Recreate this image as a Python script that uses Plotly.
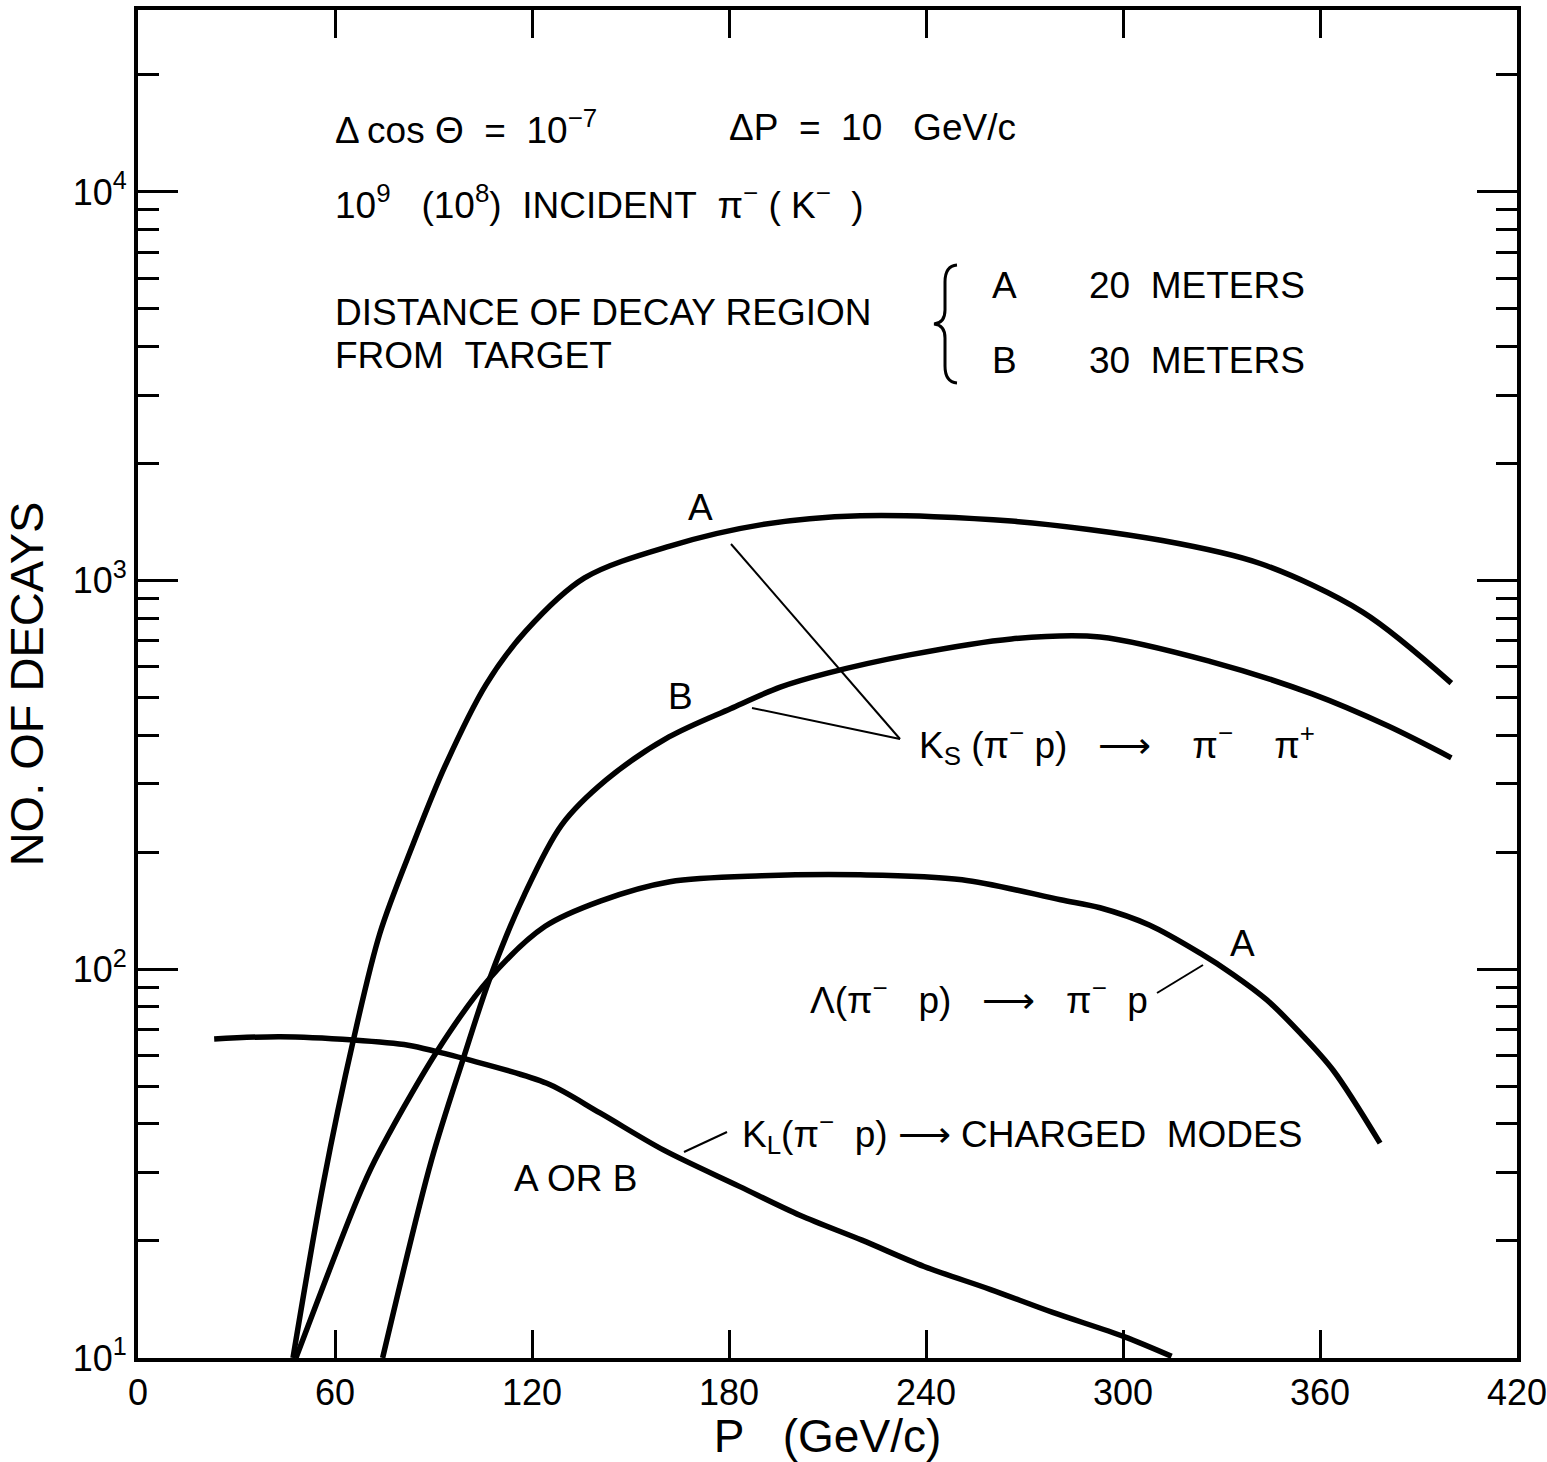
import plotly.graph_objects as go

# ---------------- data ----------------
ks_a_p = [47.2, 56.4, 65.6, 73.7, 83.8, 93.5, 106, 118, 136, 162, 190, 220, 266, 312, 342, 373, 400]
ks_a_n = [10, 28, 65.8, 124, 210, 333, 540, 740, 1016, 1227, 1393, 1468, 1423, 1268, 1105, 830, 545]

ks_b_p = [74.5, 89.4, 99.1, 107.2, 117.6, 129, 142.6, 161.7, 180.6, 195.6, 210, 235, 266, 293, 327, 357.6, 380.6, 400]
ks_b_n = [10, 32.3, 59, 95, 155, 235, 307, 396, 469, 532, 578, 644, 708, 716, 618, 511, 423, 350]

lam_p = [48.1, 66.7, 72.2, 91, 107.2, 124, 141, 162, 190, 220, 251, 281, 293, 308, 323.5, 333.5, 343.8, 354, 364, 378.3]
lam_n = [10, 25.5, 32.3, 61.4, 95, 129, 150, 168, 174, 175, 170, 151, 144, 130, 110, 97, 83.4, 68.5, 55, 35.7]

kl_p = [23.2, 43.3, 65.6, 82.3, 91, 99.1, 124.5, 140.7, 160, 183.3, 201.6, 220.5, 239.4, 259.7, 278.6, 300.3, 314.8]
kl_n = [66.2, 67.1, 65.8, 63.8, 61.4, 59, 50.9, 42.7, 34.3, 27.6, 23.3, 20.1, 17.2, 15, 13.1, 11.35, 10.1]

x_ticks = [0, 60, 120, 180, 240, 300, 360, 420]
y_major = [10, 100, 1000, 10000]
y_major_text = ["10<sup>1</sup>", "10<sup>2</sup>", "10<sup>3</sup>", "10<sup>4</sup>"]
y_minor = [m * d for d in (10, 100, 1000) for m in range(2, 10)] + [20000]

# ---------------- layout geometry ----------------
W, H = 1547, 1462
L, R, T, B = 138, 1517, 10, 1358
FONT = "Liberation Sans, Arial, sans-serif"
NB = "\u00a0"
ARROW = "⟶"


def px(x):
    return (x - L) / (R - L)


def py(y):
    return (B - y) / (B - T)


fig = go.Figure()
line_style = dict(color="black", width=5.5, shape="spline", smoothing=0.9)
for name, xs, ys in [("K_S A", ks_a_p, ks_a_n), ("K_S B", ks_b_p, ks_b_n),
                     ("Lambda A", lam_p, lam_n), ("K_L A or B", kl_p, kl_n)]:
    fig.add_trace(go.Scatter(x=xs, y=ys, mode="lines", name=name, line=line_style,
                             showlegend=False, hoverinfo="x+y+name"))

# text labels: (text, x_pixel, y_pixel, anchor)
labels = [
    (f"Δ\u2009cos{NB}Θ{NB*2}={NB*2}10<sup>−7</sup>", 333, 128, "left"),
    (f"ΔP{NB*2}={NB*2}10{NB*3}GeV/c", 727, 128, "left"),
    (f"10<sup>9</sup>{NB*3}(10<sup>8</sup>){NB*2}INCIDENT{NB*2}π<sup>−</sup>{NB}({NB}K<sup>−</sup>{NB*2})", 333, 203, "left"),
    ("DISTANCE OF DECAY REGION", 333, 312, "left"),
    (f"FROM{NB*2}TARGET", 333, 355, "left"),
    ("A", 990, 285, "left"),
    (f"20{NB*2}METERS", 1087, 285, "left"),
    ("B", 990, 360, "left"),
    (f"30{NB*2}METERS", 1087, 360, "left"),
    ("A", 700, 507, "center"),
    ("B", 680, 696, "center"),
    (f"K<sub>S</sub>{NB}(π<sup>−</sup>{NB}p){NB*3}{ARROW}{NB*4}π<sup>−</sup>{NB*4}π<sup>+</sup>", 917, 745, "left"),
    ("A", 1242, 943, "center"),
    (f"Λ(π<sup>−</sup>{NB*3}p){NB*3}{ARROW}{NB*3}π<sup>−</sup>{NB*2}p", 808, 997, "left"),
    (f"K<sub>L</sub>(π<sup>−</sup>{NB*2}p){NB}{ARROW}{NB}CHARGED{NB*2}MODES", 740, 1133, "left"),
    ("A OR B", 512, 1178, "left"),
]
annotations = []
for text, x, y, anchor in labels:
    annotations.append(dict(text=text, x=px(x), y=py(y), xref="paper", yref="paper",
                            xanchor=anchor, yanchor="middle", showarrow=False,
                            font=dict(family=FONT, size=37, color="black")))

# leader lines (pixel endpoints)
leaders = [((731, 544), (900, 739)), ((752, 708), (900, 739)),
           ((1157, 993), (1203, 965)), ((684, 1152), (727, 1132))]
shapes = []
for (x0, y0), (x1, y1) in leaders:
    shapes.append(dict(type="line", xref="paper", yref="paper",
                       x0=px(x0), y0=py(y0), x1=px(x1), y1=py(y1),
                       line=dict(color="black", width=2)))

# brace
bp = [("M", 957, 265), ("Q", 945, 266, 945, 282), ("L", 945, 310), ("Q", 945, 323, 934, 324),
      ("Q", 945, 325, 945, 338), ("L", 945, 366), ("Q", 945, 382, 957, 383)]
path = ""
for seg in bp:
    cmd = seg[0]
    coords = seg[1:]
    pts = []
    for i in range(0, len(coords), 2):
        pts.append(f"{px(coords[i]):.5f},{py(coords[i+1]):.5f}")
    path += cmd + " " + " ".join(pts) + " "
shapes.append(dict(type="path", xref="paper", yref="paper", path=path.strip(),
                   line=dict(color="black", width=3)))

fig.update_layout(
    width=W, height=H,
    margin=dict(l=L, r=W - R, t=T, b=H - B, autoexpand=False),
    paper_bgcolor="white", plot_bgcolor="white",
    font=dict(family=FONT, color="black"),
    annotations=annotations, shapes=shapes,
)

fig.update_xaxes(
    range=[0, 420], tickmode="array", tickvals=x_ticks,
    ticks="inside", ticklen=28, tickwidth=2.5, tickcolor="black",
    showline=True, linewidth=4, linecolor="black", mirror="ticks",
    showgrid=False, zeroline=False,
    tickfont=dict(family=FONT, size=36, color="black"),
    ticklabelstandoff=0, ticklabeloverflow="allow",
    title=dict(text=f"P{NB*3}(GeV/c)", font=dict(family=FONT, size=46, color="black"), standoff=8),
    automargin=False,
)
fig.update_yaxes(
    type="log", range=[1, 4.468], tickmode="array", tickvals=y_major, ticktext=y_major_text,
    ticks="inside", ticklen=40, tickwidth=2.5, tickcolor="black",
    minor=dict(tickmode="array", tickvals=y_minor, ticks="inside", ticklen=21,
               tickwidth=2.5, tickcolor="black", showgrid=False),
    showline=True, linewidth=4, linecolor="black", mirror="ticks",
    showgrid=False, zeroline=False,
    tickfont=dict(family=FONT, size=36, color="black"),
    title=dict(text="NO. OF DECAYS", font=dict(family=FONT, size=47, color="black"), standoff=16),
    automargin=False,
)

fig.write_html("out.html")
